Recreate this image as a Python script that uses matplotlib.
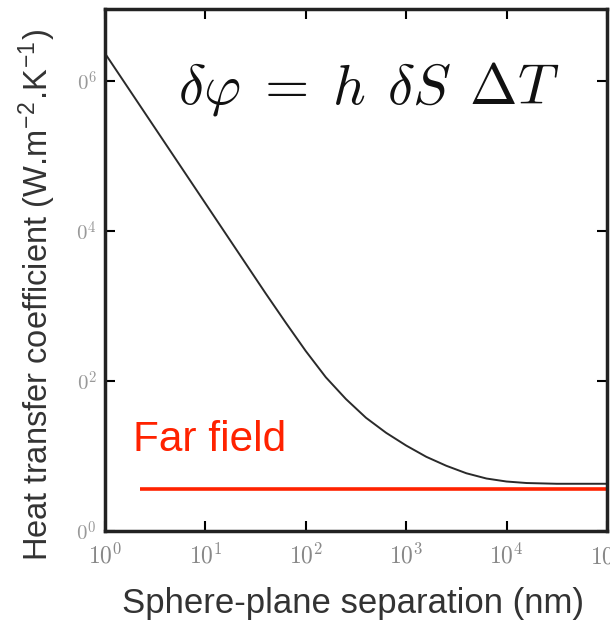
import numpy as np
import matplotlib
matplotlib.use("Agg")
import matplotlib.pyplot as plt

plt.rcParams["mathtext.fontset"] = "cm"

# values (log10 of separation in nm, log10 of h)
log_sep = [0.0, 0.25, 0.5, 0.75, 1.0, 1.25, 1.5, 1.6, 1.8, 2.0, 2.2, 2.4, 2.6,
           2.8, 3.0, 3.2, 3.4, 3.6, 3.8, 4.0, 4.2, 4.5, 5.0]
log_h = [6.37, 5.87, 5.37, 4.87, 4.37, 3.87, 3.37, 3.17, 2.78, 2.40, 2.05, 1.76,
         1.51, 1.31, 1.14, 0.99, 0.87, 0.77, 0.70, 0.66, 0.64, 0.63, 0.63]
far_field_log_h = 0.56
far_field_start = 0.35

x_ticks = [1e0, 1e1, 1e2, 1e3, 1e4, 1e5]
x_ticklabels = [r"$10^{%d}$" % i for i in range(6)]
y_ticks = [1e0, 1e2, 1e4, 1e6]
y_ticklabels = [r"$0^{%d}$" % i for i in (0, 2, 4, 6)]

sep = 10 ** np.array(log_sep)
h = 10 ** np.array(log_h)

fig = plt.figure(figsize=(6.1, 6.24), dpi=100)
ax = fig.add_axes([0.172, 0.149, 0.823, 0.8366])

ax.plot(sep, h, color="#2a2a2a", linewidth=1.4)
ax.plot([10 ** far_field_start, 1e5], [10 ** far_field_log_h] * 2,
        color="#ff2200", linewidth=2.6, clip_on=False, solid_capstyle="butt")

ax.set_xscale("log")
ax.set_yscale("log")
ax.set_xlim(1, 1e5)
ax.set_ylim(1, 10 ** 6.96)

ax.set_xticks(x_ticks)
ax.set_xticklabels(x_ticklabels, color="#888888", fontsize=17)
ax.set_yticks(y_ticks)
ax.set_yticklabels(y_ticklabels, color="#999999", fontsize=15)
ax.minorticks_off()
ax.tick_params(which="major", direction="in", length=7, width=1.5,
               top=True, right=True, pad=6)
ax.tick_params(axis="x", pad=9)
for s in ax.spines.values():
    s.set_linewidth(2.5)
    s.set_color("#222222")

ax.text(0.526, 0.846, r"$\delta\varphi \;=\; h\;\, \delta S\;\, \Delta T$",
        transform=ax.transAxes, ha="center", va="center", fontsize=41,
        color="#111111")
ax.text(0.056, 0.174, "Far field", transform=ax.transAxes, ha="left",
        va="center", fontsize=30.5, color="#ff2200", family="Liberation Sans")

fig.text(353 / 610, 1 - 603 / 624, "Sphere-plane separation (nm)",
         ha="center", va="center", fontsize=25, color="#333333",
         family="Liberation Sans")
fig.text(37 / 610, 1 - 295 / 624,
         "Heat transfer coefficient (W.m$^{\\mathregular{-2}}$.K$^{\\mathregular{-1}}$)",
         ha="center", va="center", rotation=90, fontsize=23.5, color="#333333",
         family="Liberation Sans")

plt.savefig("out.png", dpi=100)
